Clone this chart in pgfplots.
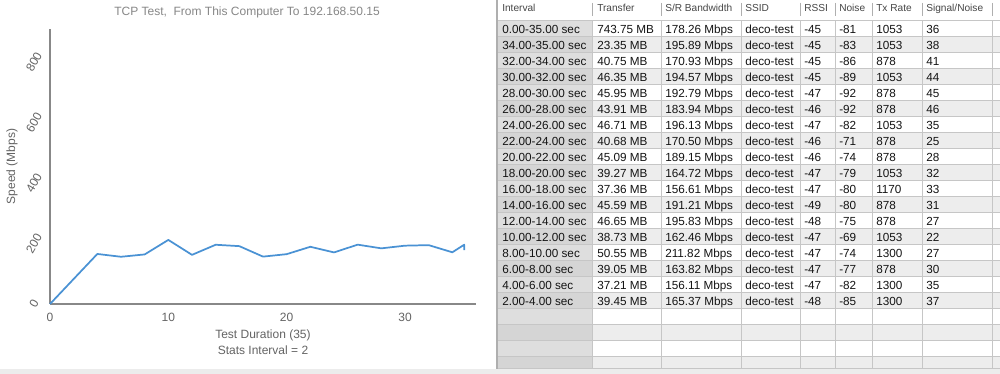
\documentclass[border=0pt]{standalone}
\usepackage{pgfplots}
\pgfplotsset{compat=1.18}
\usepackage{fontspec}
\setmainfont{Liberation Sans}
\definecolor{linec}{RGB}{74,146,212}
\definecolor{axc}{RGB}{136,136,136}
\definecolor{txc}{RGB}{100,100,100}
\definecolor{ttl}{RGB}{135,135,135}
\definecolor{gridc}{RGB}{198,198,198}
\definecolor{rowalt}{RGB}{237,237,237}
\definecolor{colA}{RGB}{222,222,222}
\definecolor{colB}{RGB}{213,213,213}
\definecolor{hdr}{RGB}{70,70,70}
\definecolor{band}{RGB}{236,236,236}
\definecolor{bord}{RGB}{175,175,175}
\definecolor{dtx}{RGB}{20,20,20}

\begin{document}
\begin{tikzpicture}
\fill[white] (0,0) rectangle (750pt,280.5pt);
\begin{scope}[shift={(0,280.5pt)},x=0.75pt,y=-0.75pt]
  % chart title
  \node[anchor=center, inner sep=0pt, text=ttl, font=\fontsize{9}{10}\selectfont] at (247,12) {TCP Test,\ \ From This Computer To 192.168.50.15};
  % row backgrounds
  \foreach \i in {0,...,21} {
    \pgfmathsetmacro\rt{21+16*\i}
    \pgfmathtruncatemacro\odd{mod(\i,2)}
    \ifnum\odd=1
      \fill[rowalt] (592,\rt) rectangle (1000,\rt+16);
      \fill[colB] (497,\rt) rectangle (592,\rt+16);
    \else
      \fill[colA] (497,\rt) rectangle (592,\rt+16);
    \fi
    \draw[gridc, line width=0.75pt] (497,\rt) -- (1000,\rt);
  }
  % column lines
  \foreach \cx in {592,661,741,800,835,872,922,992} {
    \draw[gridc, line width=0.75pt] (\cx,21) -- (\cx,369);
    \draw[bord, line width=0.6pt] (\cx,3) -- (\cx,16);
  }
  % header
  \draw[gridc, line width=0.75pt] (497,20.5) -- (1000,20.5);
  \foreach \hx/\hlab in {502/Interval,597/Transfer,665/{S/R Bandwidth},745/SSID,804/RSSI,839/Noise,876/Tx Rate,926/{Signal/Noise}} {
    \node[anchor=base west, inner sep=0pt, text=hdr, font=\fontsize{7.6}{9}\selectfont] at (\hx,12) {\hlab};
  }
  % data rows
  \foreach \i/\a/\b/\c/\d/\e/\f/\g in {
    0/0.00-35.00 sec/743.75 MB/178.26 Mbps/-45/-81/1053/36,
    1/34.00-35.00 sec/23.35 MB/195.89 Mbps/-45/-83/1053/38,
    2/32.00-34.00 sec/40.75 MB/170.93 Mbps/-45/-86/878/41,
    3/30.00-32.00 sec/46.35 MB/194.57 Mbps/-45/-89/1053/44,
    4/28.00-30.00 sec/45.95 MB/192.79 Mbps/-47/-92/878/45,
    5/26.00-28.00 sec/43.91 MB/183.94 Mbps/-46/-92/878/46,
    6/24.00-26.00 sec/46.71 MB/196.13 Mbps/-47/-82/1053/35,
    7/22.00-24.00 sec/40.68 MB/170.50 Mbps/-46/-71/878/25,
    8/20.00-22.00 sec/45.09 MB/189.15 Mbps/-46/-74/878/28,
    9/18.00-20.00 sec/39.27 MB/164.72 Mbps/-47/-79/1053/32,
    10/16.00-18.00 sec/37.36 MB/156.61 Mbps/-47/-80/1170/33,
    11/14.00-16.00 sec/45.59 MB/191.21 Mbps/-49/-80/878/31,
    12/12.00-14.00 sec/46.65 MB/195.83 Mbps/-48/-75/878/27,
    13/10.00-12.00 sec/38.73 MB/162.46 Mbps/-47/-69/1053/22,
    14/8.00-10.00 sec/50.55 MB/211.82 Mbps/-47/-74/1300/27,
    15/6.00-8.00 sec/39.05 MB/163.82 Mbps/-47/-77/878/30,
    16/4.00-6.00 sec/37.21 MB/156.11 Mbps/-47/-82/1300/35,
    17/2.00-4.00 sec/39.45 MB/165.37 Mbps/-48/-85/1300/37} {
    \pgfmathsetmacro\by{33.2+16*\i}
    \begin{scope}[every node/.style={anchor=base west, inner sep=0pt, text=dtx, font=\fontsize{8.8}{10}\selectfont}]
      \node at (502,\by) {\a};
      \node at (597,\by) {\b};
      \node at (665,\by) {\c};
      \node at (745,\by) {deco-test};
      \node at (804,\by) {\d};
      \node at (839,\by) {\e};
      \node at (876,\by) {\f};
      \node at (926,\by) {\g};
    \end{scope}
  }
  % borders and bottom band
  \fill[band] (0,369) rectangle (1000,374);
  \draw[gridc, line width=0.75pt] (497,369) -- (1000,369);
  \draw[bord, line width=0.9pt] (497,0) -- (497,369);
\end{scope}

\begin{axis}[
  at={(37.5pt,52.5pt)}, anchor=south west, scale only axis,
  width=319.5pt, height=206.25pt,
  xmin=0, xmax=36, ymin=0, ymax=909,
  axis x line*=bottom, axis y line*=left,
  axis line style={draw=axc, line width=1.1pt},
  xtick={0,10,20,30}, ytick={0,200,400,600,800},
  major tick length=0pt,
  tick label style={font=\fontsize{9}{10}\selectfont, text=txc},
  /pgf/number format/assume math mode=true,
  yticklabel style={anchor=center, xshift=-12pt, rotate=60},
  xticklabel style={yshift=-3.3pt},
  ylabel={Speed (Mbps)},
  ylabel style={at={(axis description cs:-0.0892,0.5)}, anchor=center, text=txc, font=\fontsize{9}{10}\selectfont},
  xlabel={Test Duration (35)\\Stats Interval = 2},
  xlabel style={at={(axis description cs:0.5,-0.1396)}, anchor=center, align=center, text=txc, font=\fontsize{9}{12}\selectfont},
  clip=false,
]
\addplot[linec, line width=1.3pt, line join=round] coordinates {
  (0,0) (4,165.37) (6,156.11) (8,163.82) (10,211.82) (12,162.46)
  (14,195.83) (16,191.21) (18,156.61) (20,164.72) (22,189.15)
  (24,170.50) (26,196.13) (28,183.94) (30,192.79) (32,194.57)
  (34,170.93) (35,195.89) (35,178.26)
};
\end{axis}
\pgfresetboundingbox
\path[use as bounding box] (0,0) rectangle (750pt,280.5pt);
\end{tikzpicture}
\end{document}
